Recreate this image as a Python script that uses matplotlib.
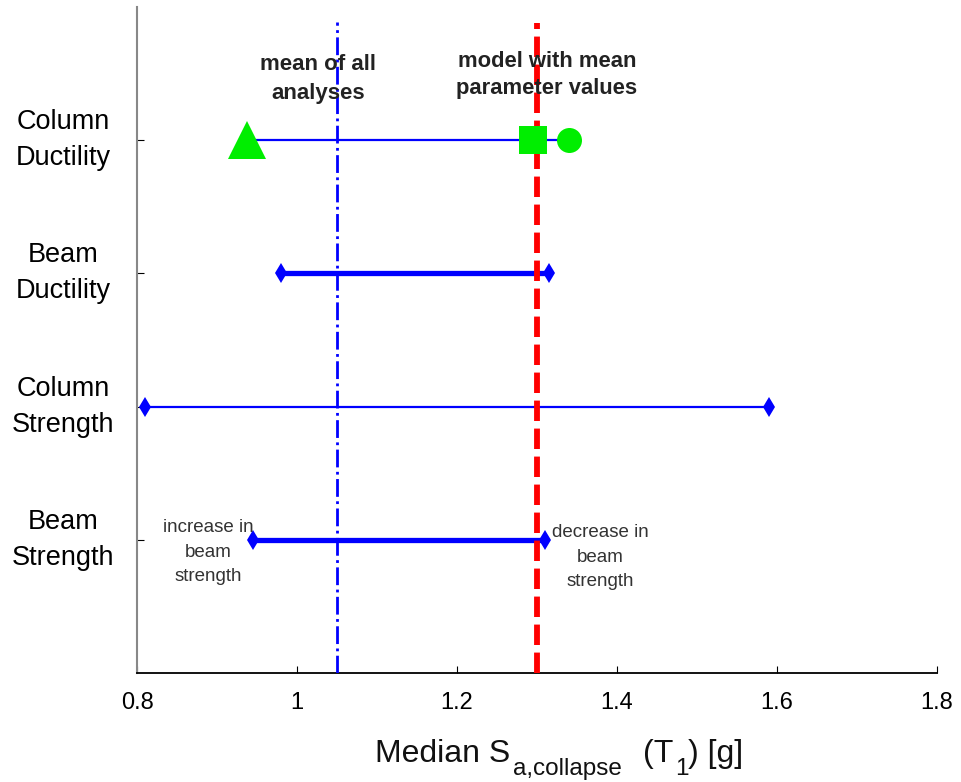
import matplotlib
matplotlib.use("Agg")
import matplotlib.pyplot as plt
from matplotlib.transforms import ScaledTranslation

categories = ["Column\nDuctility", "Beam\nDuctility", "Column\nStrength", "Beam\nStrength"]
cat_pos = [4, 3, 2, 1]
low_vals = [0.94, 0.98, 0.81, 0.945]
high_vals = [1.34, 1.315, 1.59, 1.31]
line_widths = [1.6, 3.8, 1.6, 3.8]
col_duct_markers = [0.9375, 1.295, 1.34]
mean_all = 1.05
mean_model = 1.30
xticks = [0.8, 1.0, 1.2, 1.4, 1.6, 1.8]
xticklabels = ["0.8", "1", "1.2", "1.4", "1.6", "1.8"]

plt.rcParams['font.family'] = ['Liberation Sans', 'DejaVu Sans']

W, H = 962, 782
fig = plt.figure(figsize=(W / 100, H / 100), dpi=100)
ax = fig.add_axes([137 / W, 1 - 673 / H, 800 / W, 666 / H])

for i, (y, lo, hi, lw) in enumerate(zip(cat_pos, low_vals, high_vals, line_widths)):
    if i == 0:
        ax.plot([lo, hi], [y, y], color='#0000ff', lw=lw, zorder=2)
    else:
        ax.plot([lo, hi], [y, y], color='#0000ff', lw=lw, zorder=2,
                marker='d', markersize=10, markeredgewidth=0)

ax.plot([mean_all, mean_all], [0, 4.885], color='#0000ff', lw=2, linestyle='-.', zorder=3)
ax.plot([mean_model, mean_model], [0, 4.88], color='#ff0000', lw=4.2,
        linestyle=(0, (3.5, 1.3)), zorder=3)

ax.plot([col_duct_markers[0]], [cat_pos[0]], marker='^', markersize=28, color='#00ee00',
        markeredgewidth=0, zorder=4)
ax.plot([col_duct_markers[1]], [cat_pos[0]], marker='s', markersize=19.5, color='#00ee00',
        markeredgewidth=0, zorder=4)
ax.plot([col_duct_markers[2]], [cat_pos[0]], marker='o', markersize=18, color='#00ee00',
        markeredgewidth=0, zorder=4)

ax.text(1.026, 4.46, "mean of all\nanalyses", ha='center', va='center', fontsize=16,
        fontweight='bold', color='#222222', linespacing=1.5)
ax.text(1.3125, 4.49, "model with mean\nparameter values", ha='center', va='center',
        fontsize=15.8, fontweight='bold', color='#222222', linespacing=1.4)
ax.text(0.889, 0.908, "increase in\nbeam\nstrength", ha='center', va='center', fontsize=13.5,
        color='#333333', linespacing=1.56)
ax.text(1.379, 0.87, "decrease in\nbeam\nstrength", ha='center', va='center', fontsize=13.5,
        color='#333333', linespacing=1.56)

ax.set_xlim(0.8, 1.8)
ax.set_ylim(0, 5)
ax.set_xticks(xticks)
ax.set_xticklabels(xticklabels, fontsize=17)
ax.set_yticks(cat_pos)
ax.set_yticklabels(categories, fontsize=19.5, linespacing=1.5, ha='center')
ax.tick_params(axis='y', direction='in', length=5, pad=53)
ax.tick_params(axis='x', direction='in', length=5, pad=14)
shift = ScaledTranslation(0, 8 / 100, fig.dpi_scale_trans)
for lab in ax.get_yticklabels():
    lab.set_transform(lab.get_transform() + shift)
ax.spines['top'].set_visible(False)
ax.spines['right'].set_visible(False)
ax.spines['left'].set_color('#888888')
ax.spines['left'].set_linewidth(1.5)
ax.spines['bottom'].set_linewidth(1.3)

# x-axis label built from pieces (main text + lowered subscripts)
main_base = (H - 762) / H
sub_base = (H - 775) / H
lab_kw = dict(ha='left', va='baseline', color='#111111')
fig.text(375 / W, main_base, "Median S", fontsize=23, **lab_kw)
fig.text(513 / W, sub_base, "a,collapse", fontsize=17.5, **lab_kw)
fig.text(643 / W, main_base, "(T", fontsize=23, **lab_kw)
fig.text(675 / W, sub_base, "1", fontsize=17.5, **lab_kw)
fig.text(688 / W, main_base, ") [g]", fontsize=23, **lab_kw)

fig.savefig("out.png", dpi=100)
